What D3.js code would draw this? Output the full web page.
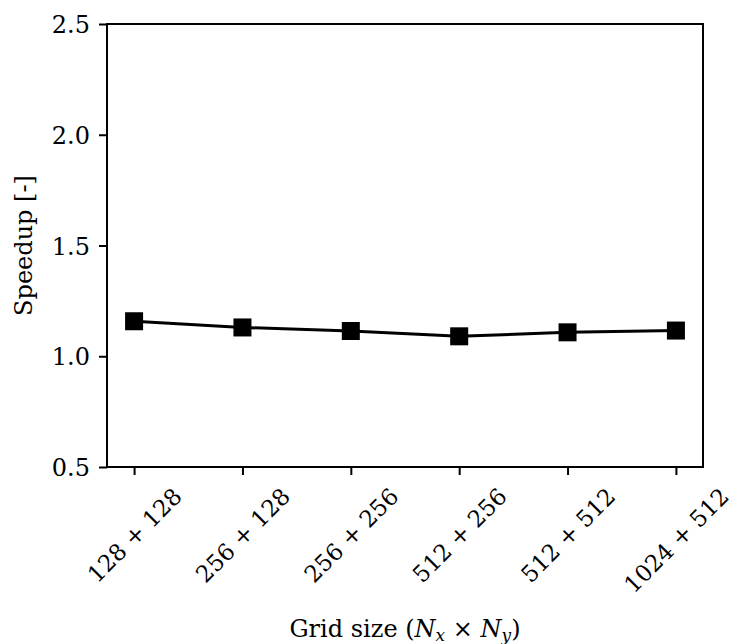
<!DOCTYPE html>
<html>
<head>
<meta charset="utf-8">
<script src="https://cdn.jsdelivr.net/npm/d3@7"></script>
<style>
  body { margin: 0; background: #fff; }
  text { font-family: "DejaVu Serif", serif; fill: #000; }
</style>
</head>
<body>
<svg id="chart"></svg>
<script>
// data
const gridLabels = ["128 + 128", "256 + 128", "256 + 256", "512 + 256", "512 + 512", "1024 + 512"];
const speedup = [1.158, 1.13, 1.114, 1.09, 1.108, 1.116];
const yTicks = [0.5, 1.0, 1.5, 2.0, 2.5];

const width = 733, height = 644;
const margin = {top: 24, right: 30, bottom: 177, left: 107};
const innerW = width - margin.left - margin.right;
const innerH = height - margin.top - margin.bottom;
const fontSize = 24;

const svg = d3.select('#chart')
    .attr('width', width)
    .attr('height', height);

const chart = svg.append('g')
    .attr('transform', `translate(${margin.left},${margin.top})`);

// matplotlib style 5% margin on the category index
const xScale = d3.scaleLinear()
    .domain([-0.25, gridLabels.length - 1 + 0.25])
    .range([0, innerW]);

const yScale = d3.scaleLinear()
    .domain([0.5, 2.5])
    .range([innerH, 0]);

const xAxis = d3.axisBottom(xScale)
    .tickValues(d3.range(gridLabels.length))
    .tickFormat(i => gridLabels[i])
    .tickSize(8)
    .tickSizeOuter(0);

const yAxis = d3.axisLeft(yScale)
    .tickValues(yTicks)
    .tickFormat(d3.format('.1f'))
    .tickSize(8)
    .tickSizeOuter(0)
    .tickPadding(9);

const xAxisG = chart.append('g')
    .attr('transform', `translate(0,${innerH})`)
    .call(xAxis);

const yAxisG = chart.append('g')
    .call(yAxis);

[xAxisG, yAxisG].forEach(g => {
  g.select('.domain').remove();
  g.selectAll('.tick line').attr('stroke', '#000').attr('stroke-width', 2);
  g.selectAll('.tick text').style('font-size', fontSize + 'px').attr('fill', '#000');
});

// rotated x labels, bounding box centred under the tick (ha='center', rotation=45)
xAxisG.selectAll('.tick text').style('font-size', '23px').each(function() {
  const t = d3.select(this);
  t.attr('y', 0).attr('dy', null).attr('text-anchor', 'middle');
  const bb = this.getBBox();
  const cy = bb.y + bb.height / 2;
  const top = 8 + 8;
  const half = (bb.width + bb.height) / (2 * Math.SQRT2);
  t.attr('transform', `translate(0,${top + half}) rotate(-45) translate(0,${-cy})`);
});

yAxisG.selectAll('.tick text').attr('dy', '0.36em');

// line + square markers
const line = d3.line()
    .x((d, i) => xScale(i))
    .y(d => yScale(d));

chart.append('path')
    .datum(speedup)
    .attr('fill', 'none')
    .attr('stroke', '#000')
    .attr('stroke-width', 3)
    .attr('d', line);

const ms = 18;
chart.selectAll('.marker')
    .data(speedup)
    .enter()
  .append('rect')
    .attr('class', 'marker')
    .attr('x', (d, i) => xScale(i) - ms / 2)
    .attr('y', d => yScale(d) - ms / 2)
    .attr('width', ms)
    .attr('height', ms)
    .attr('fill', '#000');

// spines
chart.append('rect')
    .attr('width', innerW)
    .attr('height', innerH)
    .attr('fill', 'none')
    .attr('stroke', '#000')
    .attr('stroke-width', 2);

// axis titles
svg.append('text')
    .attr('transform', `translate(32,${margin.top + innerH / 2}) rotate(-90)`)
    .attr('text-anchor', 'middle')
    .style('font-size', fontSize + 'px')
    .text('Speedup [-]');

const xl = svg.append('text')
    .attr('x', margin.left + innerW / 2)
    .attr('y', 637)
    .attr('text-anchor', 'middle')
    .style('font-size', fontSize + 'px');
xl.append('tspan').text('Grid size (');
xl.append('tspan').attr('font-style', 'italic').text('N');
xl.append('tspan').attr('font-style', 'italic').attr('font-size', '17px').attr('dy', 4).text('x');
xl.append('tspan').attr('dy', -4).text(' × ');
xl.append('tspan').attr('font-style', 'italic').text('N');
xl.append('tspan').attr('font-style', 'italic').attr('font-size', '17px').attr('dy', 4).text('y');
xl.append('tspan').attr('dy', -4).text(')');
</script>
</body>
</html>
